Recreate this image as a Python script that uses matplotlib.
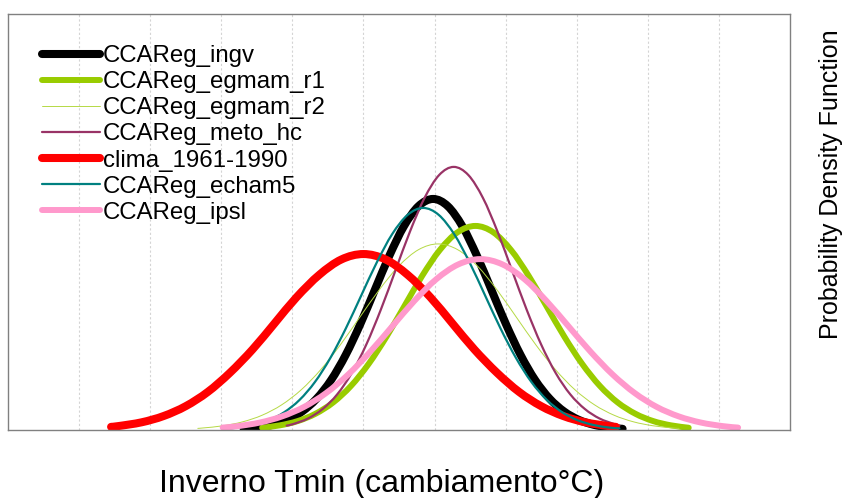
import matplotlib
matplotlib.use("Agg")
import matplotlib.pyplot as plt
from matplotlib.path import Path
from matplotlib.patches import PathPatch
from matplotlib.lines import Line2D

plt.rcParams['font.family'] = ['Liberation Sans', 'DejaVu Sans']

# curve points (x in °C of change, y = density)
ingv_x = [-1.685, -1.48, -1.275, -1.07, -0.865, -0.66, -0.455, -0.25, -0.045, 0.16, 0.365, 0.57, 0.775, 0.98,
          1.185, 1.39, 1.595, 1.8, 2.005, 2.21, 2.415, 2.62, 2.825, 3.03, 3.235, 3.44, 3.645]
ingv_y = [0.0021, 0.0046, 0.0094, 0.0180, 0.0327, 0.0556, 0.0889, 0.1335, 0.1882, 0.2493, 0.3102, 0.3627, 0.3983, 0.411,
          0.3983, 0.3627, 0.3102, 0.2493, 0.1882, 0.1335, 0.0889, 0.0556, 0.0327, 0.0180, 0.0094, 0.0046, 0.0021]

egmam_r1_x = [-1.425, -1.175, -0.925, -0.675, -0.425, -0.175, 0.075, 0.325, 0.575, 0.825, 1.075, 1.325, 1.575,
              1.825, 2.075, 2.325, 2.575, 2.825, 3.075, 3.325, 3.575, 3.825, 4.075, 4.325, 4.575]
egmam_r1_y = [0.0040, 0.0083, 0.0159, 0.0289, 0.0491, 0.0785, 0.1179, 0.1662, 0.2202, 0.2740, 0.3203, 0.3518, 0.363,
              0.3518, 0.3203, 0.2740, 0.2202, 0.1662, 0.1179, 0.0785, 0.0491, 0.0289, 0.0159, 0.0083, 0.0040]

egmam_r2_x = [-2.33, -2.25, -1.975, -1.70, -1.425, -1.15, -0.875, -0.60, -0.325, -0.05, 0.225, 0.50, 0.775, 1.05,
              1.325, 1.60, 1.875, 2.15, 2.425, 2.70, 2.975, 3.25, 3.525, 3.80, 4.075, 4.35, 4.44]
egmam_r2_y = [0.0029, 0.0037, 0.0075, 0.0145, 0.0263, 0.0448, 0.0716, 0.1075, 0.1515, 0.2008, 0.2498, 0.2921, 0.3208, 0.331,
              0.3208, 0.2921, 0.2498, 0.2008, 0.1515, 0.1075, 0.0716, 0.0448, 0.0263, 0.0145, 0.0075, 0.0037, 0.0029]

meto_x = [-1.08, -0.985, -0.78, -0.575, -0.37, -0.165, 0.04, 0.245, 0.45, 0.655, 0.86, 1.065, 1.27,
          1.475, 1.68, 1.885, 2.09, 2.295, 2.5, 2.705, 2.91, 3.115, 3.32, 3.525, 3.60]
meto_y = [0.0078, 0.0107, 0.0205, 0.0373, 0.0633, 0.1012, 0.1520, 0.2143, 0.2838, 0.3532, 0.4130, 0.4536, 0.468,
          0.4536, 0.4130, 0.3532, 0.2838, 0.2143, 0.1520, 0.1012, 0.0633, 0.0373, 0.0205, 0.0107, 0.0078]

clima_x = [-3.55, -3.44, -3.12, -2.81, -2.50, -2.19, -1.88, -1.56, -1.25, -0.94, -0.62, -0.31, 0.0,
           0.31, 0.62, 0.94, 1.25, 1.56, 1.88, 2.19, 2.50, 2.81, 3.12, 3.44, 3.55]
clima_y = [0.0056, 0.0071, 0.0137, 0.0249, 0.0424, 0.0677, 0.1016, 0.1433, 0.1898, 0.2363, 0.2762, 0.3034, 0.313,
           0.3034, 0.2762, 0.2363, 0.1898, 0.1433, 0.1016, 0.0677, 0.0424, 0.0249, 0.0137, 0.0071, 0.0056]

echam5_x = [-1.88, -1.77, -1.5525, -1.335, -1.1175, -0.90, -0.6825, -0.465, -0.2475, -0.03, 0.1875, 0.405, 0.6225, 0.84,
            1.0575, 1.275, 1.4925, 1.71, 1.9275, 2.145, 2.3625, 2.58, 2.7975, 3.015, 3.2325, 3.45, 3.60]
echam5_y = [0.0029, 0.0044, 0.0090, 0.0173, 0.0314, 0.0534, 0.0854, 0.1283, 0.1808, 0.2396, 0.2981, 0.3486, 0.3828, 0.395,
            0.3828, 0.3486, 0.2981, 0.2396, 0.1808, 0.1283, 0.0854, 0.0534, 0.0314, 0.0173, 0.0090, 0.0044, 0.0029]

ipsl_x = [-1.98, -1.765, -1.455, -1.145, -0.835, -0.525, -0.215, 0.095, 0.405, 0.715, 1.025, 1.335, 1.645,
          1.955, 2.265, 2.575, 2.885, 3.195, 3.505, 3.815, 4.125, 4.435, 4.745, 5.055, 5.27]
ipsl_y = [0.0043, 0.0069, 0.0133, 0.0242, 0.0411, 0.0658, 0.0987, 0.1392, 0.1844, 0.2295, 0.2683, 0.2946, 0.304,
          0.2946, 0.2683, 0.2295, 0.1844, 0.1392, 0.0987, 0.0658, 0.0411, 0.0242, 0.0133, 0.0069, 0.0043]

grid_x = [-4, -3, -2, -1, 0, 1, 2, 3, 4, 5]

series = [
    ("CCAReg_ingv", ingv_x, ingv_y, "#000000", 5.8),
    ("CCAReg_egmam_r1", egmam_r1_x, egmam_r1_y, "#99CC00", 4.3),
    ("CCAReg_egmam_r2", egmam_r2_x, egmam_r2_y, "#B5D945", 0.7),
    ("CCAReg_meto_hc", meto_x, meto_y, "#993366", 1.6),
    ("clima_1961-1990", clima_x, clima_y, "#FF0000", 5.8),
    ("CCAReg_echam5", echam5_x, echam5_y, "#008080", 1.6),
    ("CCAReg_ipsl", ipsl_x, ipsl_y, "#FF99CC", 4.3),
]


def smooth_path(xs, ys):
    # smoothed line like the spreadsheet one: bezier segments through the points
    pts = list(zip(xs, ys))
    n = len(pts)
    verts = [pts[0]]
    codes = [Path.MOVETO]
    for i in range(n - 1):
        p0 = pts[i - 1] if i > 0 else pts[i]
        p1 = pts[i]
        p2 = pts[i + 1]
        p3 = pts[i + 2] if i + 2 < n else pts[i + 1]
        c1 = (p1[0] + (p2[0] - p0[0]) / 6, p1[1] + (p2[1] - p0[1]) / 6)
        c2 = (p2[0] - (p3[0] - p1[0]) / 6, p2[1] - (p3[1] - p1[1]) / 6)
        verts += [c1, c2, p2]
        codes += [Path.CURVE4] * 3
    return Path(verts, codes)


fig = plt.figure(figsize=(8.46, 4.98), dpi=100)
ax = fig.add_axes([8 / 846, 1 - 430 / 498, 782 / 846, 416 / 498])

for gx in grid_x:
    ax.axvline(gx, color="#d4d4d4", lw=0.8, ls=(0, (2, 2)), zorder=0)

handles = []
for name, xs, ys, col, lw in series:
    ax.add_patch(PathPatch(smooth_path(xs, ys), fill=False, edgecolor=col, lw=lw,
                           capstyle="round", joinstyle="round"))
    handles.append(Line2D([], [], color=col, lw=lw, solid_capstyle="round", label=name))

ax.set_xlim(-5, 6)
ax.set_ylim(0, 0.74)
ax.set_xticks([])
ax.set_yticks([])
for s in ax.spines.values():
    s.set_color("#808080")
    s.set_linewidth(1.0)

ax.legend(handles=handles, loc="upper left", bbox_to_anchor=(0.0435, 0.925), frameon=False, fontsize=17.3,
          handlelength=2.4, handletextpad=0.12, labelspacing=0.17, borderpad=0, borderaxespad=0)

fig.text(382 / 846, 1 - 484 / 498, "Inverno Tmin (cambiamento°C)", fontsize=23, ha="center", va="center")
fig.text(831 / 846, 1 - 184 / 498, "Probability Density Function", fontsize=18, rotation=90,
         ha="center", va="center")

fig.savefig("out.png", dpi=100)
